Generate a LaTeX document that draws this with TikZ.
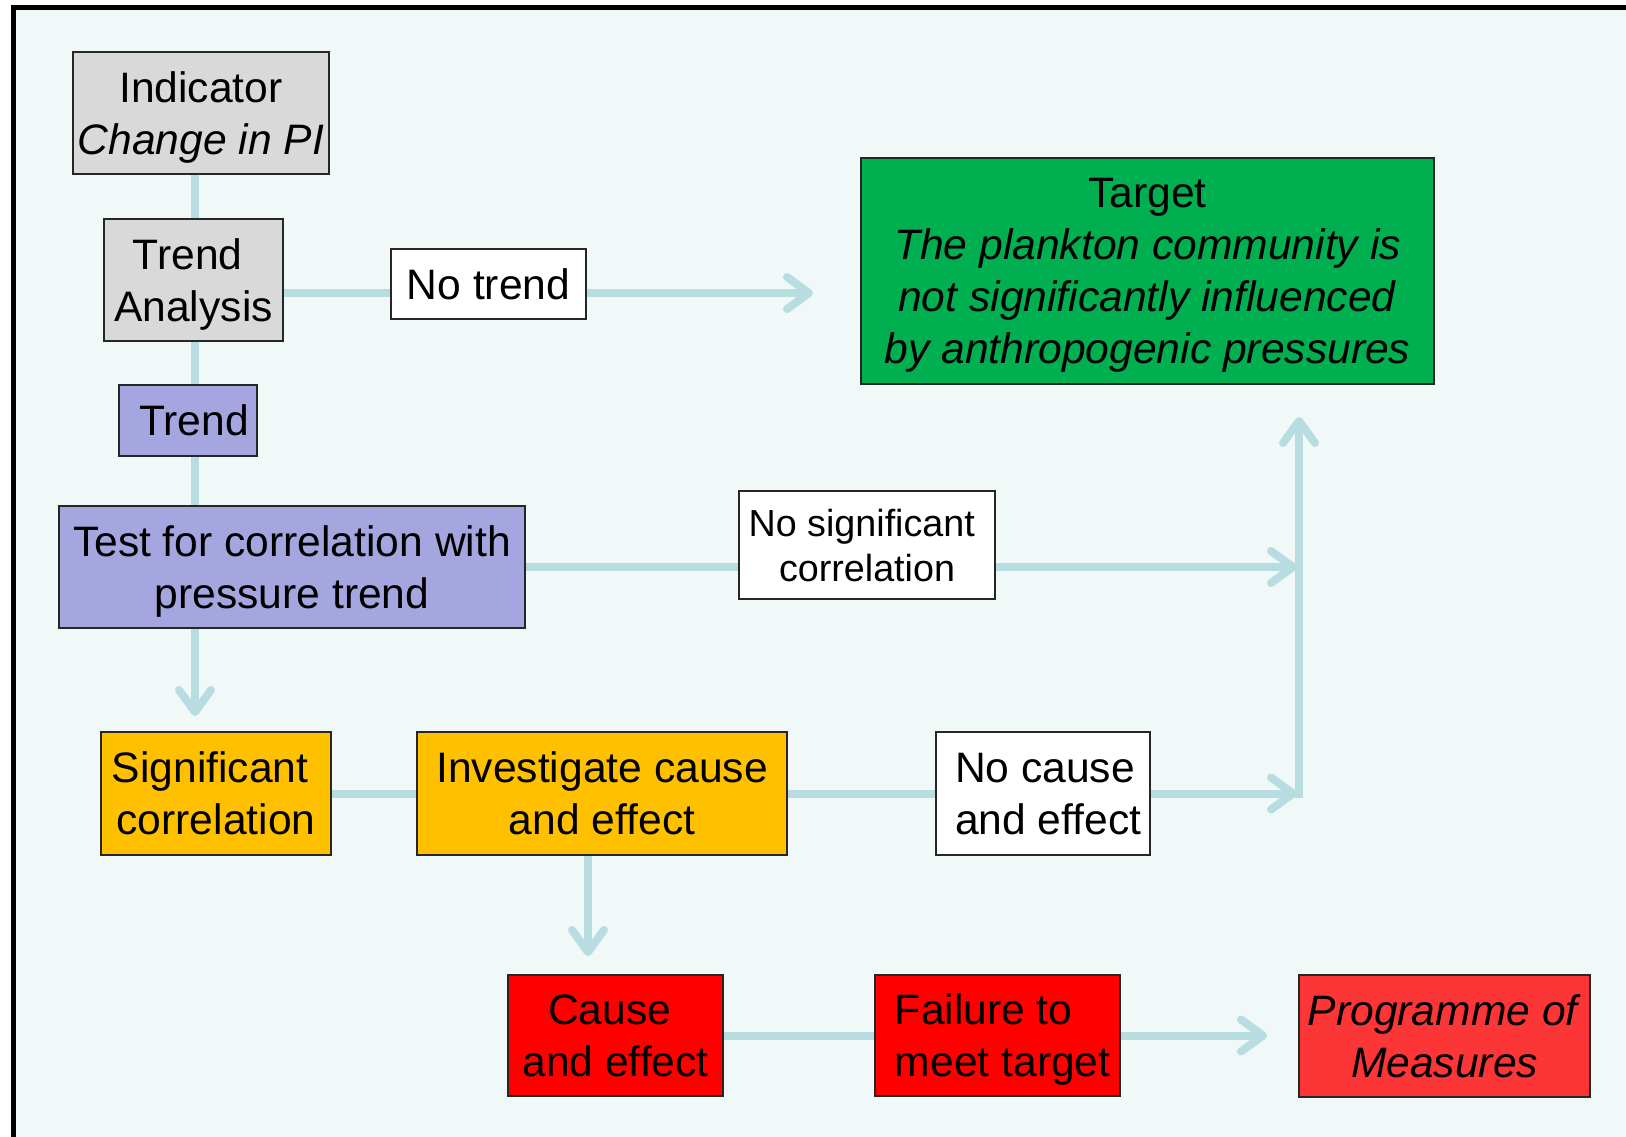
\documentclass[tikz,border=0pt]{standalone}
\usepackage{fontspec}
\setmainfont{Liberation Sans}
\usepackage{xcolor}
\usetikzlibrary{arrows.meta}
\definecolor{bgcol}{RGB}{240,249,248}
\definecolor{linecol}{RGB}{183,221,224}
\definecolor{boxgrey}{RGB}{217,217,217}
\definecolor{boxpurple}{RGB}{165,165,224}
\definecolor{boxgreen}{RGB}{0,176,80}
\definecolor{boxorange}{RGB}{255,192,0}
\definecolor{boxred}{RGB}{255,0,0}
\definecolor{pomred}{RGB}{252,54,54}
\newcommand\trail{\hspace*{0.278em}}
\newcommand\lead{\hspace*{5.2pt}}

\begin{document}
\begin{tikzpicture}[x=0.5pt,y=-0.5pt]
    \clip (0,0) rectangle (1626,1136);
    \fill[bgcol] (13.5,7) rectangle (1700,1200);
    \draw[line width=2.5pt] (13.5,1200) -- (13.5,7) -- (1700,7);

    \tikzstyle{box}=[draw=black!85,line width=0.7pt,inner sep=0pt,align=center,text depth=-1pt,
        font=\fontsize{21.3}{26}\selectfont]
    \tikzstyle{grey}=[box,fill=boxgrey]
    \tikzstyle{purple}=[box,fill=boxpurple]
    \tikzstyle{orange}=[box,fill=boxorange,minimum height=61.5pt]
    \tikzstyle{red}=[box,fill=boxred,minimum height=60.5pt]
    \tikzstyle{answer}=[box,fill=white]

    % top: indicator and trend analysis
    \node[grey,minimum width=128pt,minimum height=61pt] (ind) at (201,113) {Indicator\\\textit{Change in PI}};
    \node[grey,minimum width=89.5pt,minimum height=61pt] (ta) at (193.5,280) {Trend\trail\\Analysis};
    \node[answer,minimum width=97.5pt,minimum height=35pt] (nt) at (488.5,284) {No trend};
    \node[box,fill=boxgreen,minimum width=286.5pt,minimum height=113pt] (target) at (1147.5,271)
        {Target\\\textit{The plankton community is}\\\textit{not significantly influenced}\\\textit{by anthropogenic pressures}};

    \node[purple,minimum width=69pt,minimum height=35.5pt] (trend) at (188,420.5) {~Trend};
    \node[purple,minimum width=233pt,minimum height=61pt] (test) at (292,567) {Test for correlation with\\pressure trend};
    \node[answer,minimum width=128pt,minimum height=54pt,font=\fontsize{18.85}{22.5}\selectfont] (nosig) at (867,545) {No significant\trail\\correlation};

    \node[orange,minimum width=115pt] (sig) at (216,793.5) {Significant\trail\\correlation};
    \node[orange,minimum width=185pt] (inv) at (602,793.5) {Investigate cause\\and effect};
    \node[answer,align=left,minimum width=107pt,minimum height=61.5pt] (nocause) at (1043,793.5) {\lead No cause\\\lead and effect};

    \node[red,minimum width=107.5pt] (cause) at (615.5,1035.5) {Cause\trail\\and effect};
    \node[red,align=left,minimum width=122.5pt] (fail) at (997.5,1035.5) {\lead Failure to\\\lead meet target};
    \node[box,fill=pomred,minimum width=145.5pt,minimum height=61pt] (pom) at (1444.5,1036) {\textit{Programme of}\\\textit{Measures}};

    \coordinate (spine) at (195,0);
    \coordinate (ntline) at (0,293);
    \coordinate (ntend) at (813,293);
    \coordinate (sigtop) at (195,716);
    \coordinate (cetop) at (588,956);
    \coordinate (corrend) at (1297,567);
    \coordinate (join) at (1297,793.5);
    \coordinate (upfoot) at (1299,797.5);
    \coordinate (uptop) at (1299,417);
    \coordinate (pomend) at (1267,1035.5);

    \tikzstyle{link} = [draw=linecol, line width=4pt]
    \tikzstyle{fwd} = [link, -{Straight Barb[length=11pt,width=16pt,round]}]

          \draw [link] (ind.south -| spine) -- (ta.north -| spine);
          \draw [link] (ta.south -| spine) -- (trend.north -| spine);
          \draw [link] (trend.south -| spine) -- (test.north -| spine);
          \draw [link] (ta.east |- ntline) -- (nt.west |- ntline);
          \draw [fwd] (nt.east |- ntline) -- (ntend);
          \draw [link] (test.east) -- (nosig.west |- test.east);
          \draw [fwd] (nosig.east |- test.east) -- (corrend);
          \draw [fwd] (test.south -| spine) -- (sigtop);
          \draw [link] (sig.east) -- (inv.west);
          \draw [link] (inv.east) -- (nocause.west);
          \draw [fwd] (nocause.east) -- (join);
          \draw [fwd] (upfoot) -- (uptop);
          \draw [fwd] (inv.south -| cetop) -- (cetop);
          \draw [link] (cause.east) -- (fail.west);
          \draw [fwd] (fail.east) -- (pomend);

  \end{tikzpicture}
\end{document}
